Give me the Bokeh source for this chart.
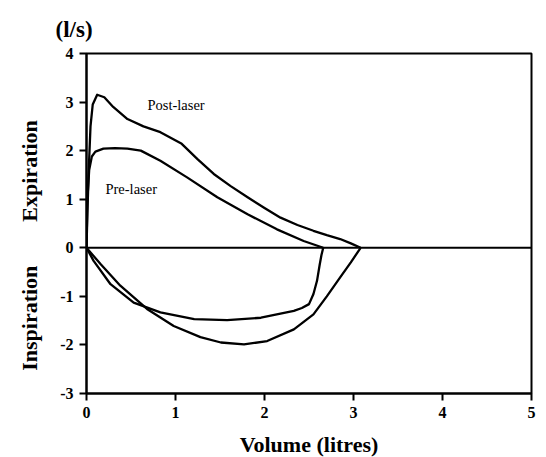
from bokeh.plotting import figure
from bokeh.models import Label, Span, FixedTicker, Range1d
from bokeh.embed import file_html
from bokeh.resources import INLINE

# Data
post_exp_vol = [0, 0.01, 0.025, 0.045, 0.07, 0.12, 0.2, 0.3, 0.46, 0.64, 0.83, 1.07, 1.25, 1.43, 1.62, 1.81, 2.0, 2.18, 2.37, 2.55, 2.7, 2.85, 2.97, 3.08]
post_exp_flow = [0, 0.7, 1.6, 2.5, 2.95, 3.15, 3.1, 2.9, 2.65, 2.5, 2.38, 2.14, 1.82, 1.52, 1.27, 1.04, 0.82, 0.62, 0.47, 0.35, 0.26, 0.18, 0.09, 0]
post_insp_vol = [3.08, 2.97, 2.85, 2.7, 2.55, 2.33, 2.03, 1.77, 1.51, 1.28, 0.98, 0.68, 0.38, 0.16, 0]
post_insp_flow = [0, -0.3, -0.61, -1.0, -1.37, -1.68, -1.92, -1.99, -1.95, -1.84, -1.61, -1.26, -0.78, -0.34, 0]

pre_exp_vol = [0, 0.01, 0.03, 0.06, 0.1, 0.19, 0.32, 0.46, 0.61, 0.83, 1.13, 1.47, 1.81, 2.14, 2.44, 2.66]
pre_exp_flow = [0, 1.0, 1.6, 1.88, 1.98, 2.04, 2.05, 2.04, 2.0, 1.79, 1.45, 1.04, 0.69, 0.38, 0.14, 0]
pre_insp_vol = [2.66, 2.64, 2.62, 2.59, 2.55, 2.50, 2.42, 2.33, 1.96, 1.58, 1.21, 0.83, 0.53, 0.27, 0.08, 0]
pre_insp_flow = [0, -0.15, -0.35, -0.68, -0.95, -1.16, -1.24, -1.30, -1.44, -1.49, -1.47, -1.33, -1.13, -0.75, -0.27, 0]

x_ticks = [0, 1, 2, 3, 4, 5]
y_ticks = [-3, -2, -1, 0, 1, 2, 3, 4]

FONT = "Liberation Serif"
NB = "\u00a0"

p = figure(frame_width=445, frame_height=340,
           min_border_left=86, min_border_right=13, min_border_top=53, min_border_bottom=62,
           x_range=Range1d(0, 5), y_range=Range1d(-3, 4),
           output_backend="svg", toolbar_location=None, background_fill_color="white")
p.xgrid.visible = False
p.ygrid.visible = False
p.outline_line_color = "black"
p.outline_line_width = 2
p.outline_line_alpha = 1

p.title.text = "(l/s)"
p.title.align = "left"
p.title.offset = -31
p.title.standoff = 23
p.title.text_font = FONT
p.title.text_font_style = "bold"
p.title.text_font_size = "23px"
p.title.text_color = "black"

for ax, ticks in ((p.xaxis, x_ticks), (p.yaxis, y_ticks)):
    ax.ticker = FixedTicker(ticks=ticks)
    ax.major_label_overrides = {t: str(t) for t in ticks}
    ax.axis_line_width = 2
    ax.axis_line_color = "black"
    ax.major_tick_line_width = 2
    ax.major_tick_out = 7
    ax.major_tick_in = 0
    ax.minor_tick_line_color = None
    ax.major_label_text_font = FONT
    ax.major_label_text_font_style = "bold"
    ax.major_label_text_font_size = "16px"
    ax.major_label_text_color = "black"
    ax.axis_label_text_font = FONT
    ax.axis_label_text_font_style = "bold"
    ax.axis_label_text_font_size = "22px"
    ax.axis_label_text_color = "black"
p.xaxis.major_label_standoff = 6
p.yaxis.major_label_standoff = 6
p.xaxis.axis_label = "Volume (litres)"
p.xaxis.axis_label_standoff = 11
p.yaxis.axis_label = "Inspiration" + NB * 8 + "Expiration" + NB * 8
p.yaxis.axis_label_standoff = 15

p.add_layout(Span(location=0, dimension="width", line_color="black", line_width=2))

for xs, ys in ((post_exp_vol, post_exp_flow), (post_insp_vol, post_insp_flow),
               (pre_exp_vol, pre_exp_flow), (pre_insp_vol, pre_insp_flow)):
    p.line(xs, ys, line_color="black", line_width=2.3, line_join="round")

def lab_data(x, y, t, size):
    p.add_layout(Label(x=x, y=y, text=t, text_font=FONT, text_font_style="normal",
                       text_font_size=size, text_align="left", text_baseline="middle",
                       text_color="black"))

lab_data(0.685, 2.93, "Post-laser", "14.5px")
lab_data(0.213, 1.22, "Pre-laser", "14.5px")

open("out.html", "w").write(file_html(p, INLINE))
